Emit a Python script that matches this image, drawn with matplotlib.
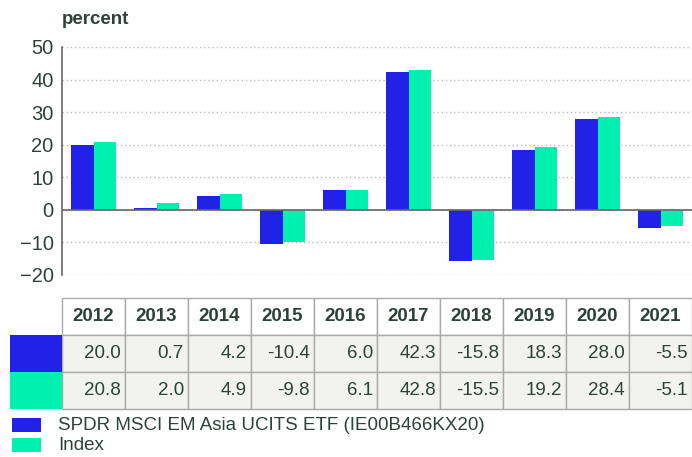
import numpy as np
import matplotlib.pyplot as plt
from matplotlib.patches import Rectangle

plt.rcParams['font.family'] = ['Liberation Sans', 'DejaVu Sans']

years = ['2012', '2013', '2014', '2015', '2016', '2017', '2018', '2019', '2020', '2021']
fund = [20.0, 0.7, 4.2, -10.4, 6.0, 42.3, -15.8, 18.3, 28.0, -5.5]
index = [20.8, 2.0, 4.9, -9.8, 6.1, 42.8, -15.5, 19.2, 28.4, -5.1]
fund_name = 'SPDR MSCI EM Asia UCITS ETF (IE00B466KX20)'
index_name = 'Index'

blue = '#2121e8'
teal = '#00f0b0'
txt = '#2b4437'
W, H = 692, 457

fig = plt.figure(figsize=(W / 100, H / 100), dpi=100)

# bar chart
ax = fig.add_axes([62 / W, 1 - 275 / H, (W - 62) / W, (275 - 47) / H])
x = np.arange(len(years))
bw = 0.365
ax.bar(x - bw / 2, fund, bw, color=blue, zorder=3)
ax.bar(x + bw / 2, index, bw, color=teal, zorder=3)
ax.set_xlim(-0.5, len(years) - 0.5)
ax.set_ylim(-20, 50)
ax.set_yticks(range(-20, 51, 10))
ax.yaxis.grid(True, linestyle=(0, (1, 2)), color='#bbbbbb', linewidth=1)
ax.axhline(0, color='#666666', linewidth=1.2, zorder=4)
ax.set_xticks([])
ax.tick_params(axis='y', length=0, labelsize=14.5, labelcolor=txt, pad=6)
for s in ['top', 'right', 'bottom']:
    ax.spines[s].set_visible(False)
ax.spines['left'].set_color('#666666')
ax.spines['left'].set_linewidth(1.2)
fig.text(62 / W, 1 - 20 / H, 'percent', fontsize=13.5, fontweight='bold', color=txt, va='center')

# table under the chart
tab = fig.add_axes([0, 0, 1, 1])
tab.set_xlim(0, W)
tab.set_ylim(H, 0)
tab.axis('off')
x0, cw = 62, (W - 62) / len(years)
rows_y = [298, 335, 372, 409]
edge = '#aaaaaa'
for i, yr in enumerate(years):
    cx = x0 + i * cw
    tab.add_patch(Rectangle((cx, rows_y[0]), cw, rows_y[1] - rows_y[0], facecolor='white', edgecolor=edge, lw=1))
    tab.text(cx + cw / 2, (rows_y[0] + rows_y[1]) / 2, yr, ha='center', va='center',
             fontsize=13.5, fontweight='bold', color=txt)
    for r, vals in enumerate([fund, index]):
        y0 = rows_y[r + 1]
        tab.add_patch(Rectangle((cx, y0), cw, rows_y[r + 2] - y0, facecolor='#f2f2ee', edgecolor=edge, lw=1))
        tab.text(cx + cw - 4, (y0 + rows_y[r + 2]) / 2, f'{vals[i]:.1f}', ha='right', va='center',
                 fontsize=13.5, color=txt)
tab.add_patch(Rectangle((10, rows_y[1]), x0 - 10, rows_y[2] - rows_y[1], facecolor=blue, lw=0))
tab.add_patch(Rectangle((10, rows_y[2]), x0 - 10, rows_y[3] - rows_y[2], facecolor=teal, lw=0))

# legend
for j, (c, name) in enumerate([(blue, fund_name), (teal, index_name)]):
    yy = 418 + j * 20
    tab.add_patch(Rectangle((12, yy), 29, 14, facecolor=c, lw=0))
    tab.text(58, yy + 7, name, va='center', fontsize=13.5, color=txt)

fig.savefig('out.png', dpi=100)
